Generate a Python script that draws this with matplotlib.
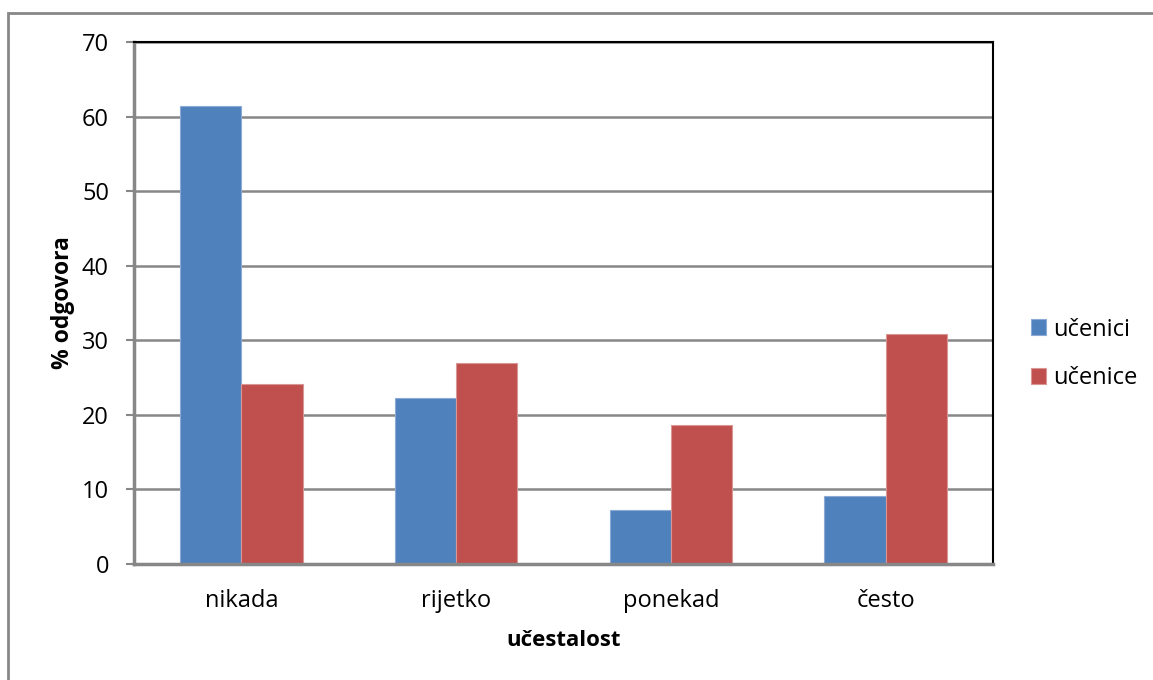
import matplotlib.pyplot as plt
import matplotlib.patches as mpatches
import numpy as np

plt.rcParams['font.family'] = ['Open Sans', 'DejaVu Sans']

kategorije = ['nikada', 'rijetko', 'ponekad', 'često']
ucenici = [61.4, 22.3, 7.3, 9.1]
ucenice = [24.1, 26.9, 18.7, 30.8]

W, H = 1153, 680
fig = plt.figure(figsize=(W / 100, H / 100), dpi=100)

# okvir grafikona (izlazi preko desnog i donjeg ruba)
fig.patches.append(mpatches.Rectangle((8 / W, -0.1), 1.2, 1 - 13 / H + 0.1,
                                      transform=fig.transFigure, fill=False,
                                      edgecolor='#878787', linewidth=2))

ax = fig.add_axes([134 / W, 1 - 564 / H, (993 - 134) / W, (564 - 42) / H])

x = np.arange(len(kategorije))
w = 0.2857
ax.bar(x - w / 2, ucenici, w, color='#4F81BD', edgecolor='#8CAAD6', linewidth=0.8,
       label='učenici', zorder=3)
ax.bar(x + w / 2, ucenice, w, color='#C0504D', edgecolor='#D99694', linewidth=0.8,
       label='učenice', zorder=3)

ax.set_xlim(-0.5, len(kategorije) - 0.5)
ax.set_ylim(0, 70)
ax.set_yticks(range(0, 71, 10))
ax.set_xticks(x)
ax.set_xticklabels(kategorije)
ax.yaxis.grid(True, color='#878787', linewidth=1.8, zorder=0)
ax.set_axisbelow(True)

ax.tick_params(axis='y', labelsize=17, length=6, width=1.5, color='#878787', pad=12)
ax.tick_params(axis='x', labelsize=17, length=0, pad=18)
for s in ['left', 'bottom']:
    ax.spines[s].set_color('#878787')
    ax.spines[s].set_linewidth(2.5)
for s in ['top', 'right']:
    ax.spines[s].set_color('black')
    ax.spines[s].set_linewidth(1.5)
ax.spines['bottom'].set_zorder(4)

ax.set_xlabel('učestalost', fontsize=16, fontweight='bold', labelpad=12)
ax.set_ylabel('% odgovora', fontsize=16.5, fontweight='bold', labelpad=5)

ax.legend(loc='upper left', bbox_to_anchor=(1.033, 0.49), frameon=False,
          fontsize=17, handlelength=0.65, handleheight=0.65, handletextpad=0.3,
          labelspacing=1.05, borderaxespad=0)

fig.savefig('out.png', dpi=100)
